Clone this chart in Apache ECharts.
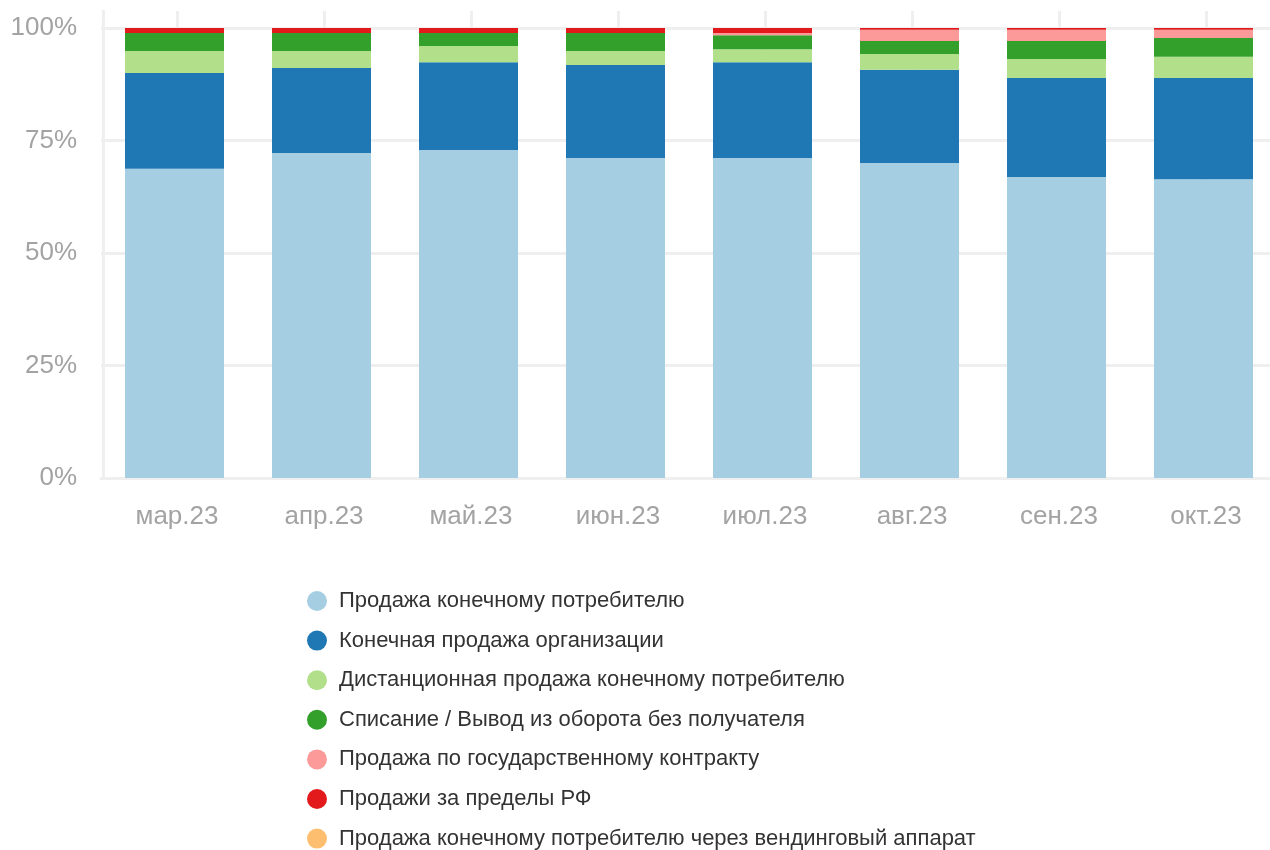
<!DOCTYPE html>
<html>
<head>
<meta charset="utf-8">
<script src="https://cdn.jsdelivr.net/npm/echarts@6/dist/echarts.min.js"></script>
<style>
html,body{margin:0;padding:0;background:#fff;}
#chart{width:1270px;height:850px;}
</style>
</head>
<body>
<div id="chart"></div>
<script>
const categories = ['мар.23','апр.23','май.23','июн.23','июл.23','авг.23','сен.23','окт.23'];
const yTickLabels = ['0%','25%','50%','75%','100%'];

const seriesNames = [
  'Продажа конечному потребителю',
  'Конечная продажа организации',
  'Дистанционная продажа конечному потребителю',
  'Списание / Вывод из оборота без получателя',
  'Продажа по государственному контракту',
  'Продажи за пределы РФ',
  'Продажа конечному потребителю через вендинговый аппарат'
];
const consumerSales   = [68.7, 72.2, 72.9, 71.1, 71.1, 70.0, 66.9, 66.4];
const orgSales        = [21.3, 18.9, 19.5, 20.7, 21.3, 20.7, 22.0, 22.5];
const remoteSales     = [4.9, 3.8, 3.6, 3.1, 2.9, 3.5, 4.2, 4.7];
const writeOff        = [4.0, 4.0, 2.9, 4.0, 3.1, 2.9, 4.0, 4.2];
const stateContract   = [0, 0, 0, 0, 0.5, 2.5, 2.5, 1.8];
const exportSales     = [1.1, 1.1, 1.1, 1.1, 1.1, 0.4, 0.4, 0.4];
const vendingSales    = [0, 0, 0, 0, 0, 0, 0, 0];

const colors = ['#a6cee3','#1f78b4','#b2df8a','#33a02c','#fb9a99','#e31a1c','#fdbf6f'];
const values = [consumerSales, orgSales, remoteSales, writeOff, stateContract, exportSales, vendingSales];

const gridColor = '#efefef';
const labelColor = '#a3a3a3';
const font = '"Liberation Sans", Arial, Helvetica, sans-serif';

const chart = echarts.init(document.getElementById('chart'), null, {renderer:'canvas'});
chart.setOption({
  animation: false,
  backgroundColor: '#fff',
  color: colors,
  textStyle: {fontFamily: font},
  grid: [
    {left: 101, width: 1176, top: 28, height: 450, outerBoundsMode: 'none', containLabel: false},
    {left: 103.5, width: 1176, top: 11, height: 467, outerBoundsMode: 'none', containLabel: false}
  ],
  xAxis: [
    {
      type: 'category', gridIndex: 0, data: categories,
      axisLine: {show: true, lineStyle: {color: gridColor, width: 3}},
      axisTick: {show: false},
      axisLabel: {show: false},
      splitLine: {show: false}
    },
    {
      type: 'category', gridIndex: 1, data: categories,
      axisLine: {show: false},
      axisTick: {show: false},
      axisLabel: {show: true, color: labelColor, fontSize: 26, margin: 26, fontFamily: font},
      splitLine: {show: true, alignWithLabel: true, lineStyle: {color: gridColor, width: 3}}
    }
  ],
  yAxis: [
    {
      type: 'value', gridIndex: 0, min: 0, max: 100, interval: 25,
      axisLine: {show: false},
      axisTick: {show: false},
      axisLabel: {color: labelColor, fontSize: 26, margin: 24, fontFamily: font,
        formatter: function(v){ return yTickLabels[Math.round(v/25)]; }},
      splitLine: {show: true, lineStyle: {color: gridColor, width: 3}}
    },
    {
      type: 'value', gridIndex: 1, min: 0, max: 100,
      axisLine: {show: true, lineStyle: {color: gridColor, width: 3}},
      axisTick: {show: false},
      axisLabel: {show: false},
      splitLine: {show: false}
    }
  ],
  legend: {
    orient: 'vertical',
    left: 302,
    top: 585,
    height: 280,
    itemWidth: 20,
    itemHeight: 20,
    itemGap: 17.6,
    icon: 'circle',
    data: seriesNames,
    textStyle: {color: '#333', fontSize: 22, lineHeight: 20, fontFamily: font, padding: [0,0,0,7]}
  },
  series: seriesNames.map(function(name, i){
    return {
      name: name,
      type: 'bar',
      stack: 'total',
      xAxisIndex: 0,
      yAxisIndex: 0,
      barWidth: 99,
      data: values[i],
      itemStyle: {color: colors[i]},
      z: 3
    };
  })
});
</script>
</body>
</html>
